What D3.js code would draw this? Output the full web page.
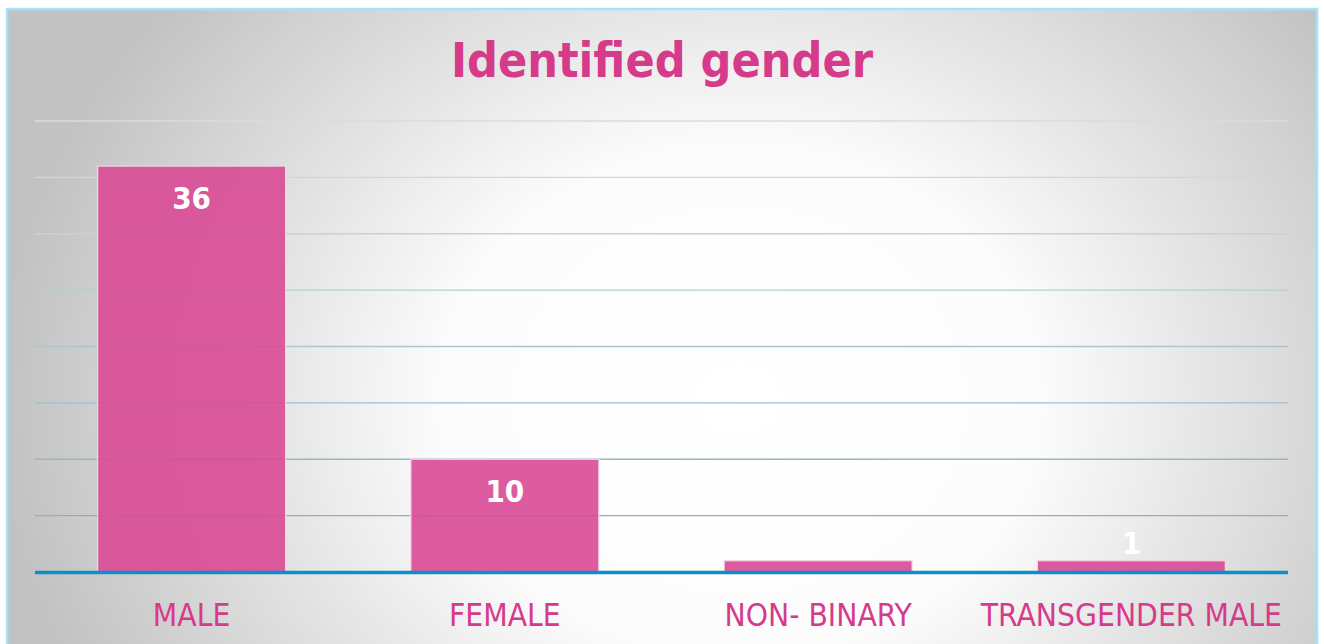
<!DOCTYPE html>
<html lang="en">
<head>
    <meta charset="UTF-8">
    <title>Identified gender</title>
    <script src="https://d3js.org/d3.v7.min.js"></script>
    <style>
        body {
            margin: 0;
            padding: 0;
            background: #fff;
        }

        svg {
            display: block;
        }
    </style>
</head>
<body>
<svg id="chart" width="1324" height="644" xmlns="http://www.w3.org/2000/svg"></svg>
<script>
    var categories = ['MALE', 'FEMALE', 'NON- BINARY', 'TRANSGENDER MALE'];
    var counts = [36, 10, 1, 1];
    var gridTicks = [0, 5, 10, 15, 20, 25, 30, 35, 40];
    var title = 'Identified gender';

    (function () {
        var pink = '#d63b8b';
        var font = '"DejaVu Sans Condensed", "DejaVu Sans", sans-serif';
        var svg = d3.select('#chart');

        var defs = svg.append('defs');
        var bg = defs.append('radialGradient')
            .attr('id', 'bg')
            .attr('gradientUnits', 'userSpaceOnUse')
            .attr('cx', 740).attr('cy', 400).attr('r', 740)
            .attr('gradientTransform', 'translate(740,400) scale(1,0.85) translate(-740,-400)');
        bg.append('stop').attr('offset', 0).attr('stop-color', '#ffffff');
        bg.append('stop').attr('offset', 0.4).attr('stop-color', '#fcfcfc');
        bg.append('stop').attr('offset', 1).attr('stop-color', '#c2c2c2');

        // frame
        svg.append('rect')
            .attr('x', 7).attr('y', 9)
            .attr('width', 1310).attr('height', 645)
            .attr('fill', 'url(#bg)')
            .attr('stroke', '#a4e2f8')
            .attr('stroke-width', 2.5);

        var x = d3.scaleBand()
            .domain(categories)
            .range([35, 1288])
            .paddingInner(0.4)
            .paddingOuter(0.2);

        var y = d3.scaleLinear()
            .domain([0, 40])
            .range([572, 121]);

        var gridColor = d3.scaleLinear()
            .domain([40, 30, 5])
            .range(['#d8dbde', '#c4d2d9', '#88b2c4'])
            .interpolate(d3.interpolateRgb);

        // gridlines
        svg.append('g')
            .selectAll('line')
            .data(gridTicks.filter(function (t) { return t > 0; }))
            .enter().append('line')
            .attr('x1', 35).attr('x2', 1288)
            .attr('y1', function (d) { return y(d); })
            .attr('y2', function (d) { return y(d); })
            .attr('stroke', function (d) { return gridColor(d); })
            .attr('stroke-width', 1.3);

        // bars
        svg.append('g')
            .selectAll('rect')
            .data(counts)
            .enter().append('rect')
            .attr('x', function (d, i) { return x(categories[i]); })
            .attr('y', function (d) { return y(d); })
            .attr('width', x.bandwidth())
            .attr('height', function (d) { return y(0) - y(d); })
            .attr('fill', '#d84a95')
            .attr('fill-opacity', 0.9)
            .attr('stroke', '#f4d6e6')
            .attr('stroke-width', 1.2);

        // baseline
        svg.append('line')
            .attr('x1', 35).attr('x2', 1288)
            .attr('y1', y(0) + 0.5).attr('y2', y(0) + 0.5)
            .attr('stroke', '#0b8fcc')
            .attr('stroke-width', 3.5);

        // value labels
        svg.append('g')
            .selectAll('text')
            .data(counts)
            .enter().append('text')
            .attr('x', function (d, i) { return x(categories[i]) + x.bandwidth() / 2; })
            .attr('y', function (d) {
                var h = y(0) - y(d);
                return h > 50 ? y(d) + 43 : y(d) - 7;
            })
            .attr('text-anchor', 'middle')
            .attr('font-family', font)
            .attr('font-stretch', 'condensed')
            .attr('font-weight', 'bold')
            .attr('font-size', '31px')
            .attr('fill', '#fff')
            .text(function (d) { return d; });

        // category axis labels
        var xAxis = d3.axisBottom(x).tickSize(0).tickPadding(0);
        var ax = svg.append('g')
            .attr('transform', 'translate(0,' + 626 + ')')
            .call(xAxis);
        ax.select('.domain').remove();
        ax.selectAll('text')
            .attr('dy', 0)
            .attr('y', 0)
            .attr('font-family', font)
            .attr('font-stretch', 'condensed')
            .attr('font-size', '31.5px')
            .attr('fill', pink);

        // title
        svg.append('text')
            .attr('x', 662)
            .attr('y', 77)
            .attr('text-anchor', 'middle')
            .attr('font-family', font)
            .attr('font-stretch', 'condensed')
            .attr('font-weight', 'bold')
            .attr('font-size', '48px')
            .attr('fill', pink)
            .text(title);
    })();
</script>
</body>
</html>
